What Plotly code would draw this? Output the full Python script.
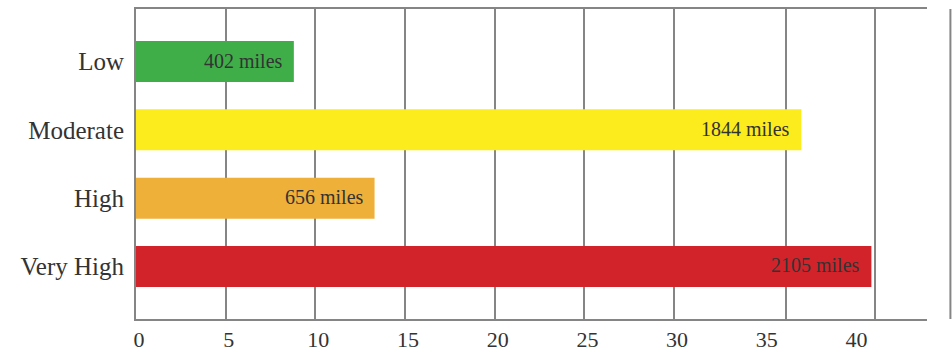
import plotly.graph_objects as go

# Risk levels and their bar values
categories = ["Low", "Moderate", "High", "Very High"]
values = [8.8, 37.1, 13.3, 41.0]
mileage = [402, 1844, 656, 2105]
x_ticks = [0, 5, 10, 15, 20, 25, 30, 35, 40]

# styling
colors = ["#3fae49", "#fcec1e", "#efb03a", "#d2232a"]
GRID = "#858585"
FONT = "Liberation Serif"
X_RANGE = [0, 44.1]
GRID_AT = [5, 10, 15, 20, 25, 30, 36.25, 41.2]

labels = [f"{m} miles" for m in mileage]

fig = go.Figure()
fig.add_trace(go.Bar(
    y=categories, x=values, orientation="h",
    marker=dict(color=colors, line=dict(width=0)),
    width=0.6, showlegend=False, hoverinfo="skip",
))

for cat, val, lab in zip(categories, values, labels):
    fig.add_annotation(
        x=val, y=cat, text=lab, showarrow=False,
        xanchor="right", xshift=-9, yshift=1,
        font=dict(family=FONT, size=20, color="#333333"),
    )

# grid drawn on an overlaid axis sharing the same range
fig.add_trace(go.Scatter(x=[None], y=[None], xaxis="x2", showlegend=False))

fig.update_layout(
    width=952, height=353,
    margin=dict(l=136, r=25, t=9, b=34),
    paper_bgcolor="white", plot_bgcolor="white",
    bargap=0.4,
    xaxis=dict(
        range=X_RANGE, tickvals=x_ticks, showgrid=False, zeroline=False,
        showline=True, linecolor=GRID, linewidth=2, mirror=True,
        ticks="", ticklabelstandoff=0, ticklabelshift=3, automargin=False,
        tickfont=dict(family=FONT, size=22, color="#333333"),
    ),
    xaxis2=dict(
        range=X_RANGE, overlaying="x", tickvals=GRID_AT, showgrid=True,
        gridcolor=GRID, gridwidth=2, showticklabels=False, zeroline=False,
        showline=False, ticks="", automargin=False,
    ),
    yaxis=dict(
        categoryorder="array", categoryarray=categories,
        range=[3.77, -0.77], showgrid=False, zeroline=False,
        showline=True, linecolor=GRID, linewidth=2, ticks="",
        ticklabelstandoff=5, automargin=False,
        tickfont=dict(family=FONT, size=25, color="#333333"),
    ),
    shapes=[dict(
        type="line", xref="paper", yref="paper",
        x0=1.0296, x1=1.0296, y0=0.0, y1=1.0,
        line=dict(color=GRID, width=2),
    )],
)

fig.write_html("out.html")
